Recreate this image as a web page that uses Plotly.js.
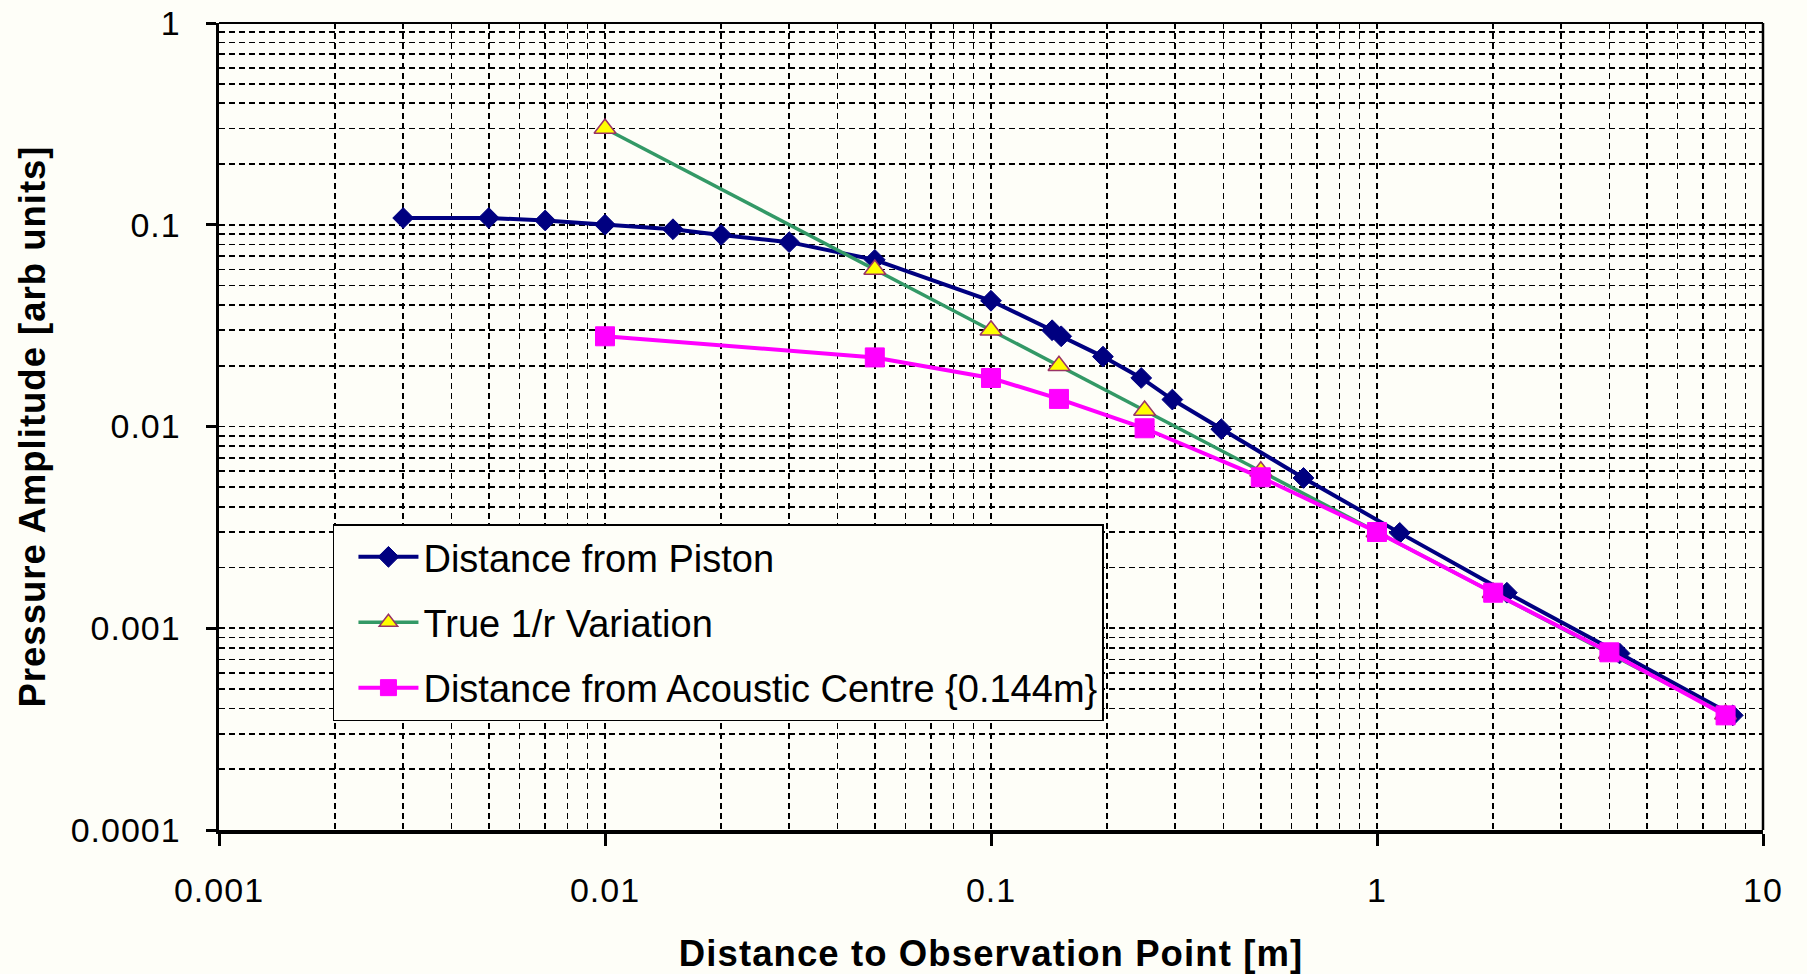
<!DOCTYPE html>
<html>
<head>
<meta charset="utf-8">
<script src="https://cdn.plot.ly/plotly-3.0.1.min.js"></script>
<style>
  html, body { margin: 0; padding: 0; background: #fefef8; }
  #chart { width: 1807px; height: 974px; }
  .xtick text, .ytick text { letter-spacing: 1px; }
  .xtitle { letter-spacing: 1.1px; }
  .ytitle { letter-spacing: 1px; }
</style>
</head>
<body>
<div id="chart"></div>
<script>
// Distance from piston face [m] and measured pressure amplitude
const pistonDist = [0.003, 0.005, 0.007, 0.01, 0.015, 0.02, 0.03, 0.05, 0.1, 0.144, 0.152,
                    0.195, 0.245, 0.295, 0.395, 0.645, 1.145, 2.17, 4.25, 8.35];
const pistonAmp  = [0.108, 0.108, 0.105, 0.1, 0.095, 0.089, 0.082, 0.067, 0.042, 0.030, 0.028,
                    0.0222, 0.0174, 0.0136, 0.0097, 0.00556, 0.00297, 0.0015, 0.00075, 0.00037];

// Ideal spherical spreading
const trueDist = [0.01, 0.05, 0.1, 0.15, 0.25, 0.5, 1, 2, 4, 8];
const trueAmp  = [0.3, 0.06, 0.03, 0.02, 0.012, 0.006, 0.003, 0.0015, 0.00075, 0.000375];

// Distance measured from the acoustic centre
const centreDist = [0.01, 0.05, 0.1, 0.15, 0.25, 0.5, 1, 2, 4, 8];
const centreAmp  = [0.028, 0.022, 0.0174, 0.0137, 0.0098, 0.0056, 0.003, 0.0015, 0.00076, 0.00037];

const seriesNames = ['Distance from Piston', 'True 1/r Variation', 'Distance from Acoustic Centre {0.144m}'];

const xTickVals = [0.001, 0.01, 0.1, 1, 10];
const xTickText = ['0.001', '0.01', '0.1', '1', '10'];
const yTickVals = [0.0001, 0.001, 0.01, 0.1, 1];
const yTickText = ['0.0001', '0.001', '0.01', '0.1', '1'];

// minor grid positions: 2..9 within every decade
function minorVals(lo, hi) {
  const out = [];
  for (let e = lo; e < hi; e++) {
    for (let k = 2; k <= 9; k++) out.push(k * Math.pow(10, e));
  }
  return out;
}

const font = 'Liberation Sans, Arial, Helvetica, sans-serif';
const gridStyle = { showgrid: true, gridcolor: '#000', griddash: '6px,4px', gridwidth: 1.6 };

const traces = [
  {
    x: pistonDist, y: pistonAmp, name: seriesNames[0], legendgroup: 'a',
    type: 'scatter', mode: 'lines+markers',
    line: { color: '#000080', width: 4 },
    marker: { symbol: 'diamond', size: 16, color: '#000080', line: { color: '#000080', width: 1 } }
  },
  {
    x: trueDist, y: trueAmp, name: seriesNames[1], legendgroup: 'b',
    type: 'scatter', mode: 'lines+markers',
    line: { color: '#339966', width: 3.5 },
    marker: { symbol: 'triangle-up', size: 19, color: '#ffff00', line: { color: '#993366', width: 1.5 } }
  },
  {
    x: centreDist, y: centreAmp, name: seriesNames[2], legendgroup: 'c',
    type: 'scatter', mode: 'lines+markers',
    line: { color: '#ff00ff', width: 4 },
    marker: { symbol: 'square', size: 19, color: '#ff00ff', line: { color: '#ff00ff', width: 1 } }
  }
];

const layout = {
  width: 1807, height: 974,
  paper_bgcolor: '#fefef8', plot_bgcolor: '#fefef8',
  margin: { l: 219, r: 44, t: 23, b: 144 },
  font: { family: font, color: '#000' },
  showlegend: true,
  legend: {
    x: 0.0738, y: 0.379, xanchor: 'left', yanchor: 'top',
    bgcolor: '#fefef8', bordercolor: '#000', borderwidth: 1.5,
    font: { family: font, size: 38, color: '#000' },
    traceorder: 'grouped', tracegroupgap: 13, itemwidth: 60, indentation: 19
  },
  xaxis: Object.assign({
    type: 'log', range: [-3, 1],
    tickmode: 'array', tickvals: xTickVals, ticktext: xTickText,
    tickfont: { family: font, size: 34, color: '#000' },
    ticks: 'outside', ticklen: 12, tickwidth: 3, tickcolor: '#000',
    ticklabelstandoff: 16,
    showline: true, linecolor: '#000', linewidth: 3.5, mirror: false,
    zeroline: false,
    minor: Object.assign({ tickmode: 'array', tickvals: minorVals(-3, 1), ticks: '' }, gridStyle),
    title: { text: 'Distance to Observation Point [m]', standoff: 38,
             font: { family: font, size: 36.5, weight: 'bold', color: '#000' } }
  }, gridStyle),
  yaxis: Object.assign({
    type: 'log', range: [-4, 0],
    tickmode: 'array', tickvals: yTickVals, ticktext: yTickText,
    tickfont: { family: font, size: 34, color: '#000' },
    ticks: 'outside', ticklen: 10, tickwidth: 3, tickcolor: '#000',
    ticklabelstandoff: 18,
    showline: true, linecolor: '#000', linewidth: 3.5, mirror: false,
    zeroline: false,
    minor: Object.assign({ tickmode: 'array', tickvals: minorVals(-4, 0), ticks: '' }, gridStyle),
    title: { text: 'Pressure Amplitude [arb units]', standoff: 15,
             font: { family: font, size: 36.5, weight: 'bold', color: '#000' } }
  }, gridStyle),
  shapes: [
    { type: 'line', xref: 'paper', yref: 'paper', x0: 0, x1: 1, y0: 1, y1: 1, line: { color: '#000', width: 2 } },
    { type: 'line', xref: 'paper', yref: 'paper', x0: 1, x1: 1, y0: 0, y1: 1, line: { color: '#000', width: 2.5 } }
  ]
};

Plotly.newPlot('chart', traces, layout, { displayModeBar: false, staticPlot: true });
</script>
</body>
</html>
